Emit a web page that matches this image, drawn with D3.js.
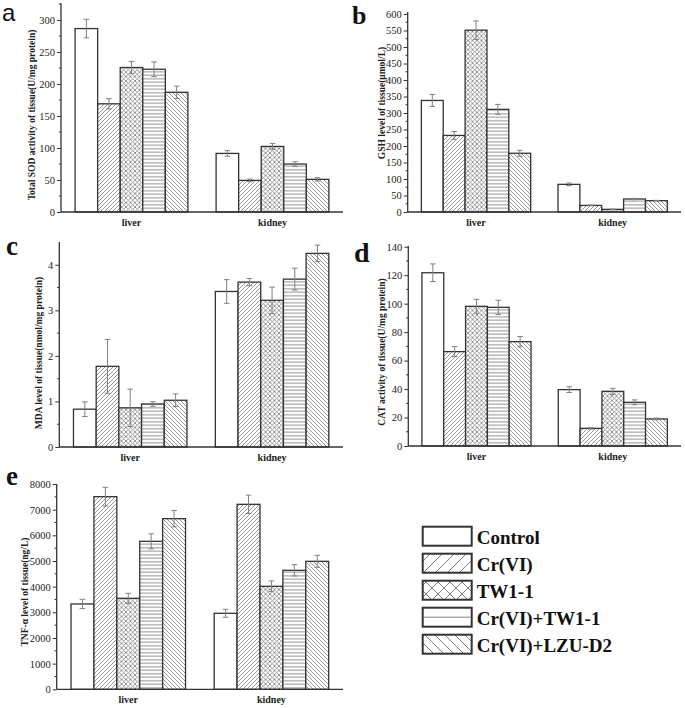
<!DOCTYPE html>
<html><head><meta charset="utf-8">
<script src="https://cdn.jsdelivr.net/npm/d3@7"></script>
<style>body{margin:0;background:#fff}svg{display:block}</style>
</head><body>
<svg id="c" width="685" height="708"></svg>
<script>
const tissues = ["liver", "kidney"];
const groups = ["Control", "Cr(VI)", "TW1-1", "Cr(VI)+TW1-1", "Cr(VI)+LZU-D2"];

// Panel a: Total SOD
const sodLiver = [286.5, 169, 225.7, 223, 187];
const sodLiverErr = [14.5, 8, 9.5, 11.5, 9.6];
const sodKidney = [91.5, 49.4, 102.4, 74.9, 51];
const sodKidneyErr = [4.4, 2, 4.5, 3.6, 2.6];
// Panel b: GSH
const gshLiver = [338, 232, 551, 311, 178];
const gshLiverErr = [18, 12, 28, 15, 9];
const gshKidney = [83.8, 20, 8, 39.4, 34.3];
const gshKidneyErr = [4, 1, 1, 2, 1];
// Panel c: MDA
const mdaLiver = [0.83, 1.77, 0.86, 0.945, 1.026];
const mdaLiverErr = [0.16, 0.59, 0.41, 0.05, 0.14];
const mdaKidney = [3.414, 3.62, 3.22, 3.685, 4.25];
const mdaKidneyErr = [0.26, 0.08, 0.29, 0.24, 0.18];
// Panel d: CAT
const catLiver = [121.7, 66.3, 98.1, 97.4, 73.3];
const catLiverErr = [6.2, 3.5, 4.9, 5, 3.6];
const catKidney = [39.6, 12.4, 38.4, 30.7, 19];
const catKidneyErr = [2, 0.5, 2.1, 1.7, 0.6];
// Panel e: TNF-alpha
const tnfLiver = [3325, 7506, 3545, 5766, 6649];
const tnfLiverErr = [182, 364, 195, 292, 318];
const tnfKidney = [2961, 7208, 4013, 4636, 4987];
const tnfKidneyErr = [156, 357, 208, 221, 234];

const svg = d3.select("#c");
const defs = svg.append("defs");
const hatchCol = "#808080";

function mkPattern(id, size, draw) {
  const p = defs.append("pattern").attr("id", id).attr("patternUnits", "userSpaceOnUse")
    .attr("width", size).attr("height", size);
  p.append("rect").attr("width", size).attr("height", size).attr("fill", "#fff");
  draw(p, size);
}
function diagF(p, s, w) { // "/"
  p.append("path").attr("d", `M0,${s} L${s},0 M${-s/2},${s/2} L${s/2},${-s/2} M${s/2},${s*1.5} L${s*1.5},${s/2}`)
    .attr("stroke", hatchCol).attr("stroke-width", w);
}
function diagB(p, s, w) { // "\"
  p.append("path").attr("d", `M0,0 L${s},${s} M${-s/2},${s/2} L${s/2},${s*1.5} M${s/2},${-s/2} L${s*1.5},${s/2}`)
    .attr("stroke", hatchCol).attr("stroke-width", w);
}
function horiz(p, s, w) {
  p.append("path").attr("d", `M0,${s/2} L${s},${s/2}`).attr("stroke", hatchCol).attr("stroke-width", w);
}
// bar patterns (fine)
mkPattern("p1", 4, (p,s)=>diagF(p,s,0.8));
mkPattern("p2", 4.5, (p,s)=>{diagF(p,s,0.8);diagB(p,s,0.8);});
mkPattern("p3", 3.5, (p,s)=>horiz(p,s,0.9));
mkPattern("p4", 4, (p,s)=>diagB(p,s,0.8));
// legend patterns (coarse)
mkPattern("l1", 12, (p,s)=>diagF(p,s,1));
mkPattern("l2", 12, (p,s)=>{diagF(p,s,1);diagB(p,s,1);});
mkPattern("l4", 10, (p,s)=>diagB(p,s,1));

const fills = ["#fff", "url(#p1)", "url(#p2)", "url(#p3)", "url(#p4)"];
const legFills = ["#fff", "url(#l1)", "url(#l2)", null, "url(#l4)"];

const serif = "'Liberation Serif','Times New Roman',serif";

function panel(o) {
  const g = svg.append("g");
  const x = d3.scaleBand().domain(tissues).range([o.x0, o.x1]).padding(0);
  const inner = d3.scaleBand().domain(groups).range([0, x.bandwidth() * 0.8]).padding(0);
  const y = d3.scaleLinear().domain([0, o.top]).range([o.y0, o.yTop]);
  const data = [];
  tissues.forEach((t, ti) => groups.forEach((gname, gi) => {
    data.push({t, gi, gname, v: o.vals[ti][gi], e: o.errs[ti][gi]});
  }));
  const off = x.bandwidth() * 0.1;
  // bars
  g.selectAll("rect.bar").data(data).join("rect").attr("class", "bar")
    .attr("x", d => x(d.t) + off + inner(d.gname))
    .attr("width", inner.bandwidth())
    .attr("y", d => y(d.v))
    .attr("height", d => y(0) - y(d.v))
    .attr("fill", d => fills[d.gi])
    .attr("stroke", "#333").attr("stroke-width", 1.3);
  // error bars
  const eg = g.append("g").attr("stroke", "#808080").attr("stroke-width", 1).attr("fill", "none");
  eg.selectAll("path").data(data).join("path")
    .attr("d", d => {
      const cx = x(d.t) + off + inner(d.gname) + inner.bandwidth() / 2;
      const y1 = y(d.v + d.e), y2 = y(Math.max(0, d.v - d.e));
      return `M${cx-2.8},${y1}H${cx+2.8}M${cx},${y1}V${y2}M${cx-2.8},${y2}H${cx+2.8}`;
    });
  // y axis
  const ax = d3.axisLeft(y).tickValues(d3.range(0, o.top + 1e-9, o.step)).tickSize(4).tickPadding(2)
    .tickFormat(d3.format("d"));
  const ag = g.append("g").attr("transform", `translate(${o.x0},0)`).call(ax);
  ag.select(".domain").remove();
  ag.selectAll(".tick line").attr("stroke", "#333").attr("stroke-width", 1);
  ag.selectAll("text").attr("font-family", serif).attr("font-size", 10.5).attr("fill", "#222");
  const minor = d3.range(o.step / 2, o.top, o.step);
  g.append("g").selectAll("line").data(minor).join("line")
    .attr("x1", o.x0 - 2.2).attr("x2", o.x0).attr("y1", d => y(d)).attr("y2", d => y(d))
    .attr("stroke", "#333").attr("stroke-width", 1);
  g.append("line").attr("x1", o.x0).attr("x2", o.x0).attr("y1", y(0)).attr("y2", o.axisTop)
    .attr("stroke", "#333").attr("stroke-width", 1.3);
  g.append("line").attr("x1", o.x0).attr("x2", o.x1).attr("y1", y(0)).attr("y2", y(0))
    .attr("stroke", "#333").attr("stroke-width", 1.3);
  // category labels
  g.selectAll("text.cat").data(tissues).join("text").attr("class", "cat")
    .attr("x", d => x(d) + x.bandwidth() / 2).attr("y", y(0) + 14)
    .attr("text-anchor", "middle").attr("font-family", serif).attr("font-weight", "bold")
    .attr("font-size", 10).attr("fill", "#222").text(d => d);
  // y label
  g.append("text").attr("transform", `translate(${o.lx},${o.ly}) rotate(-90)`)
    .attr("text-anchor", "middle").attr("font-family", serif).attr("font-weight", "bold")
    .attr("font-size", 9.5).attr("fill", "#222").text(o.label);
  // panel letter
  g.append("text").attr("x", o.px).attr("y", o.py).attr("font-family", o.pf || serif)
    .attr("font-weight", o.pw || "bold").attr("font-size", o.ps || 28).attr("fill", "#111").text(o.letter);
}

panel({x0: 61, x1: 343, y0: 212, yTop: 3.3, top: 326, axisTop: 3.3, step: 50,
  vals: [sodLiver, sodKidney], errs: [sodLiverErr, sodKidneyErr],
  label: "Total SOD activity of tissue(U/mg protein)", lx: 35, ly: 115,
  letter: "a", px: 2, py: 21, pf: "'Liberation Sans',Arial,sans-serif", pw: "normal", ps: 24});
panel({x0: 407.7, x1: 681, y0: 212, yTop: 14, top: 600, axisTop: 12, step: 50,
  vals: [gshLiver, gshKidney], errs: [gshLiverErr, gshKidneyErr],
  label: "GSH level of tissue(\u03bcmol/L)", lx: 385, ly: 103,
  letter: "b", px: 352, py: 24, ps: 26});
panel({x0: 59.3, x1: 343, y0: 447, yTop: 242, top: 4.5, axisTop: 242, step: 1,
  vals: [mdaLiver, mdaKidney], errs: [mdaLiverErr, mdaKidneyErr],
  label: "MDA level of tissue(nmol/mg protein)", lx: 42, ly: 353,
  letter: "c", px: 6, py: 255, ps: 27});
panel({x0: 408.3, x1: 681, y0: 446, yTop: 246.7, top: 140, axisTop: 246, step: 20,
  vals: [catLiver, catKidney], errs: [catLiverErr, catKidneyErr],
  label: "CAT activity of tissue(U/mg protein)", lx: 385, ly: 352,
  letter: "d", px: 354, py: 262, ps: 28});
panel({x0: 56.7, x1: 343, y0: 689.3, yTop: 484, top: 8000, axisTop: 484, step: 1000,
  vals: [tnfLiver, tnfKidney], errs: [tnfLiverErr, tnfKidneyErr],
  label: "TNF-\u03b1 level of tissue(ng/L)", lx: 28, ly: 592,
  letter: "e", px: 6, py: 485, ps: 27});

// legend
const lg = svg.append("g");
groups.forEach((gname, i) => {
  const yy = 526.7 + i * 27;
  lg.append("rect").attr("x", 422.7).attr("y", yy).attr("width", 49).attr("height", 19)
    .attr("fill", legFills[i] || "#fff").attr("stroke", "#333").attr("stroke-width", 2);
  if (i === 3) lg.append("line").attr("x1", 423.7).attr("x2", 470.7).attr("y1", yy + 9.5).attr("y2", yy + 9.5)
    .attr("stroke", hatchCol).attr("stroke-width", 1);
  lg.append("text").attr("x", 476.7).attr("y", yy + 17.3).attr("font-family", serif)
    .attr("font-weight", "bold").attr("font-size", 19).attr("fill", "#111").text(gname);
});
</script>
</body></html>
